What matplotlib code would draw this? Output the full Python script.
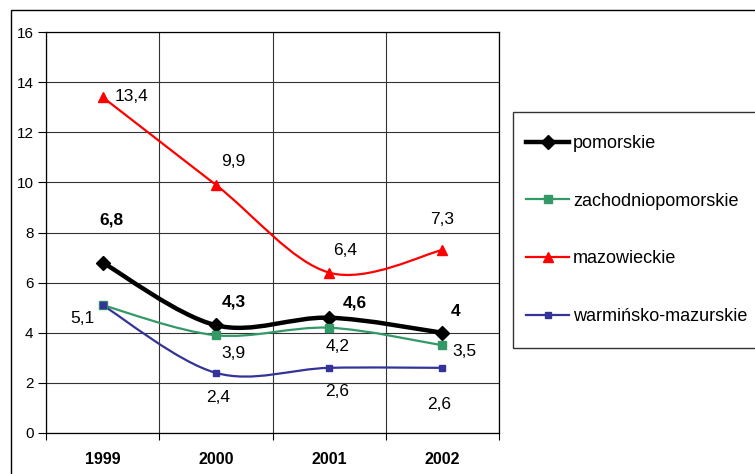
import matplotlib.pyplot as plt
from matplotlib.path import Path
from matplotlib.patches import PathPatch, Rectangle
from matplotlib.lines import Line2D

plt.rcParams['font.family'] = ['Liberation Sans', 'DejaVu Sans']

years = ["1999", "2000", "2001", "2002"]
pomorskie = [6.8, 4.3, 4.6, 4.0]
zachodniopomorskie = [5.1, 3.9, 4.2, 3.5]
mazowieckie = [13.4, 9.9, 6.4, 7.3]
warminsko = [5.1, 2.4, 2.6, 2.6]

labels = ["pomorskie", "zachodniopomorskie", "mazowieckie", "warmińsko-mazurskie"]

fig = plt.figure(figsize=(7.55, 4.74), dpi=100)
W, H = 755, 474
ax = fig.add_axes([46 / W, (H - 433) / H, (499 - 46) / W, (433 - 32) / H])

x = [i + 0.5 for i in range(len(years))]


def smooth_path(xs, ys):
    # Catmull-Rom style bezier through the points (like Excel's smoothed lines)
    pts = list(zip(xs, ys))
    verts = [pts[0]]
    codes = [Path.MOVETO]
    n = len(pts)
    for i in range(n - 1):
        p0 = pts[i - 1] if i > 0 else pts[i]
        p1 = pts[i]
        p2 = pts[i + 1]
        p3 = pts[i + 2] if i + 2 < n else pts[i + 1]
        c1 = (p1[0] + (p2[0] - p0[0]) / 6, p1[1] + (p2[1] - p0[1]) / 6)
        c2 = (p2[0] - (p3[0] - p1[0]) / 6, p2[1] - (p3[1] - p1[1]) / 6)
        verts += [c1, c2, p2]
        codes += [Path.CURVE4] * 3
    return Path(verts, codes)


series = [
    (pomorskie, "black", "D", 7, 3.2),
    (zachodniopomorskie, "#339966", "s", 5.5, 1.6),
    (mazowieckie, "#ff0000", "^", 7, 1.6),
    (warminsko, "#333399", "s", 4.5, 1.6),
]

handles = []
for vals, col, mk, ms, lw in series:
    ax.add_patch(PathPatch(smooth_path(x, vals), facecolor="none", edgecolor=col, lw=lw, zorder=3))
    ax.plot(x, vals, linestyle="none", marker=mk, color=col, markersize=ms, zorder=4)
    handles.append(Line2D([], [], color=col, lw=lw, marker=mk, markersize=ms))

# data labels: (series, offsets in pixels)
label_offsets = [
    (pomorskie, [(9, 43), (18, 23), (26, 15), (13, 21)], True),
    (zachodniopomorskie, [(-20, -13), (18, -18), (9, -19), (22, -6)], False),
    (mazowieckie, [(29, 1), (17, 23), (16, 22), (0, 31)], False),
    (warminsko, [None, (2, -25), (8, -24), (-3, -37)], False),
]
for vals, offs, bold in label_offsets:
    for xi, v, off in zip(x, vals, offs):
        if off is None:
            continue
        txt = ("%g" % v).replace(".", ",")
        ax.annotate(txt, (xi, v), xytext=off, textcoords="offset pixels",
                    ha="center", va="center", fontsize=12.5,
                    fontweight="bold" if bold else "normal", zorder=5)

ax.set_xlim(0, 4)
ax.set_ylim(0, 16)
ax.set_yticks(range(0, 17, 2))
ax.set_xticks(range(0, 5))
ax.set_xticklabels([])
ax.set_xticks(x, minor=True)
ax.set_xticklabels(years, minor=True, fontweight="bold", fontsize=11.5)
ax.tick_params(axis="x", which="minor", length=0, pad=14)
ax.tick_params(axis="x", which="major", length=5, direction="out")
ax.tick_params(axis="y", length=6, direction="out", labelsize=11, pad=3)
ax.grid(True, which="major", color="#333333", lw=0.8)
for s in ax.spines.values():
    s.set_linewidth(0.9)

# legend with its own frame
fig.patches.append(Rectangle((513 / W, (H - 348) / H), (770 - 513) / W, (348 - 112) / H,
                             transform=fig.transFigure, facecolor="white",
                             edgecolor="#333333", lw=1.0, zorder=0))
fig.legend(handles, labels, loc="upper left", bbox_to_anchor=(517 / W, (H - 126) / H),
           frameon=False, fontsize=13, labelspacing=2.25, handlelength=2.4,
           handletextpad=0.2, borderpad=0)

# outer chart border
fig.patches.append(Rectangle((11 / W, -0.05), 1.0, (H - 10) / H + 0.05,
                             transform=fig.transFigure, facecolor="none",
                             edgecolor="black", lw=1.0, zorder=0))

fig.savefig("out.png", dpi=100)
